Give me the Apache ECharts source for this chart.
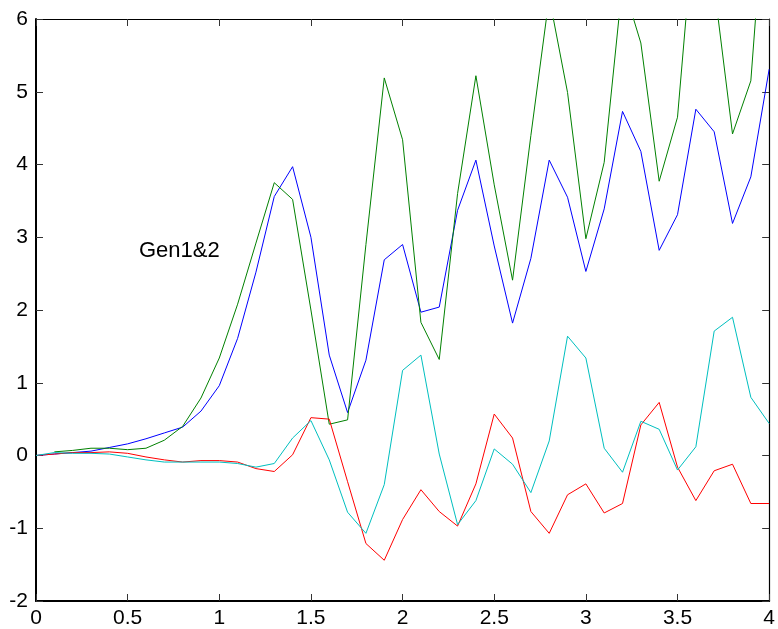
<!DOCTYPE html>
<html>
<head>
<meta charset="utf-8">
<script src="https://cdn.jsdelivr.net/npm/echarts@6/dist/echarts.min.js"></script>
<style>
html,body{margin:0;padding:0;background:#fff;}
#chart{width:778px;height:629px;}
</style>
</head>
<body>
<div id="chart"></div>
<script>
var xs = [0,0.1,0.2,0.3,0.4,0.5,0.6,0.7,0.8,0.9,1.0,1.1,1.2,1.3,1.4,1.5,1.6,1.7,1.8,1.9,2.0,
          2.1,2.2,2.3,2.4,2.5,2.6,2.7,2.8,2.9,3.0,3.1,3.2,3.3,3.4,3.5,3.6,3.7,3.8,3.9,4.0];
var blue = [0,0.02,0.04,0.06,0.11,0.16,0.23,0.31,0.39,0.61,0.96,1.61,2.52,3.56,3.97,3.0,1.38,0.59,1.31,2.69,2.9,
            1.97,2.04,3.37,4.06,2.88,1.82,2.71,4.06,3.55,2.53,3.39,4.73,4.18,2.82,3.31,4.76,4.45,3.19,3.83,5.31];
var green = [null,0.05,0.07,0.1,0.1,0.08,0.1,0.21,0.4,0.79,1.34,2.08,2.92,3.75,3.52,2.0,0.43,0.49,2.9,5.19,4.34,
             1.83,1.32,3.6,5.22,3.72,2.41,4.4,6.3,4.99,2.98,4.03,6.5,5.67,3.77,4.65,7.6,6.45,4.42,5.15,8.5];
var red = [0,0.02,0.04,0.04,0.05,0.03,-0.02,-0.06,-0.09,-0.07,-0.07,-0.09,-0.18,-0.22,0.01,0.52,0.5,-0.36,-1.21,-1.44,-0.88,
           -0.47,-0.77,-0.97,-0.39,0.57,0.24,-0.77,-1.07,-0.54,-0.39,-0.79,-0.66,0.42,0.73,-0.16,-0.62,-0.21,-0.12,-0.66,-0.66];
var cyan = [0,0.04,0.03,0.03,0.02,-0.02,-0.06,-0.09,-0.09,-0.09,-0.09,-0.11,-0.16,-0.11,0.24,0.48,-0.06,-0.78,-1.07,-0.4,1.17,
            1.38,0.02,-0.95,-0.62,0.09,-0.12,-0.51,0.2,1.64,1.34,0.1,-0.23,0.47,0.36,-0.2,0.12,1.71,1.9,0.8,0.44];
var annotation = 'Gen1&2';

function pairs(ys){ return xs.map(function(x,i){ return [x, ys[i]]; }); }

var chart = echarts.init(document.getElementById('chart'), null, {renderer:'canvas'});
var FONT = 'Liberation Sans';
function xAx(pos, show, w){
  return {type:'value', position:pos, min:0, max:4, interval:0.5,
    axisLine:{show:true, onZero:false, lineStyle:{color:'#000', width:w}},
    axisTick:{show:true, inside:true, length:7, lineStyle:{color:'#333', width:1}},
    axisLabel:{show:show, color:'#000', fontSize:21, fontFamily:FONT, margin:7},
    splitLine:{show:false}};
}
function yAx(pos, show, w){
  return {type:'value', position:pos, min:-2, max:6, interval:1,
    axisLine:{show:true, onZero:false, lineStyle:{color:'#000', width:w}},
    axisTick:{show:true, inside:true, length:7, lineStyle:{color:'#333', width:1}},
    axisLabel:{show:show, color:'#000', fontSize:21, fontFamily:FONT, margin:8},
    splitLine:{show:false}};
}
function line(ys, color){
  return {type:'line', data:pairs(ys), showSymbol:false, symbol:'none', clip:true,
    lineStyle:{color:color, width:1}, itemStyle:{color:color}, animation:false, connectNulls:false};
}
chart.setOption({
  animation:false,
  backgroundColor:'#fff',
  grid:{left:36, right:5, top:19, bottom:28, containLabel:false},
  xAxis:[xAx('bottom', true, 2), xAx('top', false, 1.2)],
  yAxis:[yAx('left', true, 2), yAx('right', false, 1.2)],
  series:[line(blue,'#0000ff'), line(green,'#008000'), line(red,'#ff0000'), line(cyan,'#00bfbf')],
  graphic:[{type:'text', left:139, top:240, style:{text:annotation, fill:'#000', font:'22px "Liberation Sans"'}}]
});
</script>
</body>
</html>
